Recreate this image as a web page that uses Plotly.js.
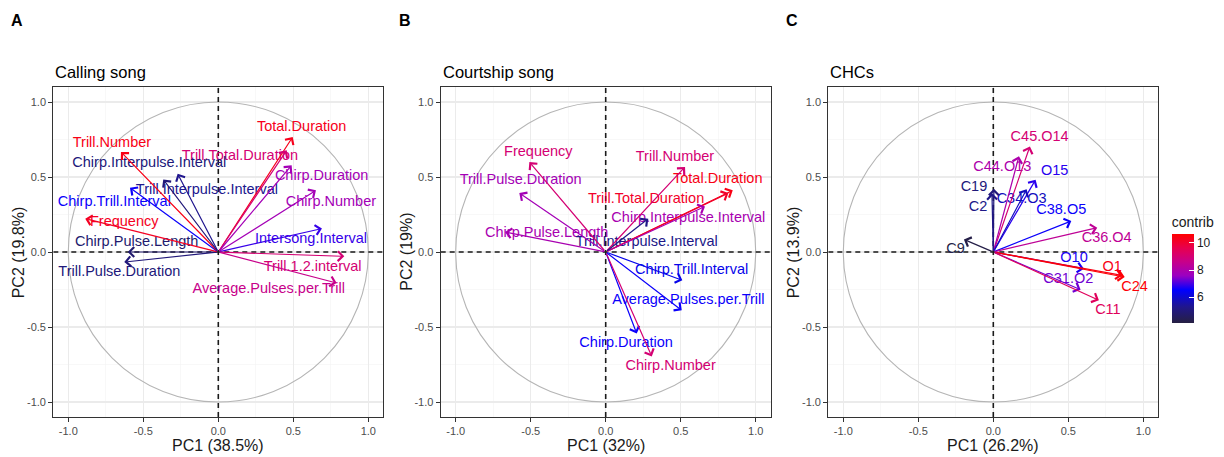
<!DOCTYPE html>
<html><head><meta charset="utf-8">
<script src="https://cdn.plot.ly/plotly-3.0.1.min.js"></script>
<style>html,body{margin:0;padding:0;background:#fff}</style>
</head><body><div id="chart" style="width:1224px;height:457px"></div>
<script>
// ---------- DATA ----------
// Panel A: Calling song
const varsA = ['Total.Duration','Trill.Total.Duration','Chirp.Duration','Chirp.Number','Intersong.Interval','Trill.1.2.interval','Average.Pulses.per.Trill','Trill.Pulse.Duration','Chirp.Pulse.Length','Frequency','Chirp.Trill.Interval','Trill.Number','Chirp.Interpulse.Interval','Trill.Interpulse.Interval'];
const pc1A = [0.496, 0.456, 0.489, 0.651, 0.691, 0.840, 0.789, -0.627, -0.604, -0.887, -0.589, -0.649, -0.367, -0.271];
const pc2A = [0.767, 0.678, 0.578, 0.411, 0.156, -0.029, -0.207, -0.067, 0.000, 0.222, 0.429, 0.667, 0.484, 0.522];
const contribA = [10.3, 9.0, 7.8, 7.8, 6.9, 9.0, 8.6, 5.0, 4.8, 10.2, 6.6, 10.4, 5.0, 5.3];

// Panel B: Courtship song
const varsB = ['Frequency','Trill.Pulse.Duration','Chirp.Pulse.Length','Trill.Number','Total.Duration','Trill.Total.Duration','Chirp.Interpulse.Interval','Trill.Interpulse.Interval','Chirp.Trill.Interval','Average.Pulses.per.Trill','Chirp.Duration','Chirp.Number'];
const pc1B = [-0.509, -0.576, -0.671, 0.529, 0.847, 0.818, 0.662, 0.284, 0.511, 0.507, 0.207, 0.307];
const pc2B = [0.600, 0.393, 0.133, 0.567, 0.411, 0.393, 0.304, 0.222, -0.189, -0.389, -0.544, -0.696];
const contribB = [9.0, 7.8, 7.9, 9.0, 10.4, 10.1, 7.9, 5.2, 6.3, 6.6, 6.6, 9.0];

// Panel C: CHCs
const varsC = ['C45.O14','C44.O13','O15','C34.O3','C19','C2','C38.O5','C36.O4','C9','O10','O1','C24','C31.O2','C11'];
const pc1C = [0.244, 0.171, 0.282, 0.222, 0.004, -0.009, 0.520, 0.693, -0.196, 0.604, 0.860, 0.876, 0.582, 0.704];
const pc2C = [0.704, 0.638, 0.482, 0.418, 0.422, 0.393, 0.207, 0.162, 0.084, -0.111, -0.156, -0.167, -0.251, -0.322];
const contribC = [9.0, 8.0, 6.8, 5.8, 5.0, 5.2, 6.6, 8.4, 4.2, 6.7, 10.4, 10.6, 7.3, 9.4];

const axisTickLabels = ['-1.0','-0.5','0.0','0.5','1.0'];
const colorbarTicks = [6, 8, 10];

// ---------- LABEL PLACEMENT (repelled label positions, layout only) ----------
const labelPosA = {x:[0.556,0.144,0.689,0.751,0.618,0.629,0.336,-0.660,-0.544,-0.627,-0.693,-0.709,-0.460,-0.076],
                   y:[0.829,0.638,0.504,0.333,0.082,-0.104,-0.249,-0.133,0.062,0.196,0.333,0.727,0.589,0.411]};
const labelPosB = {x:[-0.449,-0.567,-0.393,0.462,0.747,0.269,0.551,0.273,0.573,0.551,0.136,0.433],
                   y:[0.667,0.478,0.122,0.633,0.482,0.351,0.222,0.067,-0.122,-0.322,-0.611,-0.762]};
const labelPosC = {x:[0.309,0.060,0.409,0.189,-0.129,-0.102,0.453,0.756,-0.251,0.538,0.793,0.942,0.500,0.764],
                   y:[0.762,0.562,0.540,0.349,0.433,0.300,0.278,0.089,0.018,-0.044,-0.100,-0.233,-0.184,-0.389]};

// ---------- STYLE ----------
const W = 1224, H = 457;
const FONT = 'Liberation Sans, Arial, Helvetica, sans-serif';
const CMIN = 4.1, CMAX = 10.66;
const stops = [[0,[38,32,66]],[0.18,[32,22,140]],[0.37,[0,0,255]],[0.53,[154,0,194]],[0.69,[200,0,137]],[0.84,[231,0,79]],[1,[255,0,0]]];
const colorscale = stops.map(s => [s[0], 'rgb(' + s[1].join(',') + ')']);
function colorFor(v){
  let t = (v - CMIN) / (CMAX - CMIN); t = Math.max(0, Math.min(1, t));
  for (let i = 1; i < stops.length; i++){
    if (t <= stops[i][0]){
      const a = stops[i-1], b = stops[i];
      const f = (t - a[0]) / (b[0] - a[0]);
      const c = a[1].map((x, k) => Math.round(x + (b[1][k] - x) * f));
      return 'rgb(' + c.join(',') + ')';
    }
  }
  return 'rgb(255,0,0)';
}
const px = x => x / W;
const py = y => 1 - y / H;
const panelTop = 87, panelBottom = 417;

const panels = [
  {s:'',  vars:varsA, pc1:pc1A, pc2:pc2A, contrib:contribA, lab:labelPosA, left:53.3,  title:'Calling song',   letter:'A', xt:'PC1 (38.5%)', yt:'PC2 (19.8%)'},
  {s:'2', vars:varsB, pc1:pc1B, pc2:pc2B, contrib:contribB, lab:labelPosB, left:440.7, title:'Courtship song', letter:'B', xt:'PC1 (32%)',   yt:'PC2 (19%)'},
  {s:'3', vars:varsC, pc1:pc1C, pc2:pc2C, contrib:contribC, lab:labelPosC, left:828.3, title:'CHCs',           letter:'C', xt:'PC1 (26.2%)', yt:'PC2 (13.9%)'}
];

function axis(dom, anchor){
  return {
    domain: dom, anchor: anchor, range: [-1.1, 1.1], fixedrange: true,
    tickmode: 'array', tickvals: [-1, -0.5, 0, 0.5, 1], ticktext: axisTickLabels,
    showgrid: true, gridcolor: '#ebebeb', gridwidth: 1.1,
    minor: {tickmode: 'array', tickvals: [-0.75, -0.25, 0.25, 0.75], showgrid: true, gridcolor: '#f3f3f3', gridwidth: 0.6, ticks: ''},
    zeroline: false, showline: true, mirror: true, linecolor: '#333333', linewidth: 1.1,
    ticks: 'outside', ticklen: 4, tickcolor: '#333333', tickwidth: 1,
    tickfont: {family: FONT, size: 11, color: '#4d4d4d'}
  };
}

const layout = {
  width: W, height: H, margin: {l: 0, r: 0, t: 0, b: 0},
  paper_bgcolor: '#ffffff', plot_bgcolor: '#ffffff',
  showlegend: false, font: {family: FONT},
  shapes: [], annotations: []
};
const traces = [];

panels.forEach(p => {
  const xdom = [px(p.left), px(p.left + 330)];
  const ydom = [py(panelBottom), py(panelTop)];
  const xa = 'x' + p.s, ya = 'y' + p.s;
  layout['xaxis' + p.s] = axis(xdom, ya);
  layout['yaxis' + p.s] = axis(ydom, xa);
  // unit circle and dashed reference lines (between grid and data)
  layout.shapes.push({type: 'circle', xref: xa, yref: ya, x0: -1, x1: 1, y0: -1, y1: 1, line: {color: '#b5b5b5', width: 1.1}, layer: 'between'});
  layout.shapes.push({type: 'line', xref: xa, yref: ya, x0: 0, x1: 0, y0: -1.1, y1: 1.1, line: {color: '#1a1a1a', width: 1.6, dash: '5px,4px'}, layer: 'between'});
  layout.shapes.push({type: 'line', xref: xa, yref: ya, x0: -1.1, x1: 1.1, y0: 0, y1: 0, line: {color: '#1a1a1a', width: 1.6, dash: '5px,4px'}, layer: 'between'});
  const cols = p.contrib.map(colorFor);
  // arrows
  p.vars.forEach((v, i) => {
    layout.annotations.push({xref: xa, yref: ya, axref: xa, ayref: ya, x: p.pc1[i], y: p.pc2[i], ax: 0, ay: 0,
      text: '', showarrow: true, arrowhead: 4, arrowsize: 1.6, arrowwidth: 1.2, arrowcolor: cols[i], standoff: 0});
  });
  // labels
  traces.push({type: 'scatter', mode: 'text', xaxis: xa, yaxis: ya, x: p.lab.x, y: p.lab.y, text: p.vars,
    textposition: 'middle center', textfont: {family: FONT, size: 14.5, color: cols}, hoverinfo: 'skip', cliponaxis: false});
  // titles
  layout.annotations.push({xref: 'paper', yref: 'paper', x: px(p.left), y: py(72), xanchor: 'left', yanchor: 'middle',
    text: p.title, showarrow: false, font: {family: FONT, size: 16.5, color: '#000'}});
  layout.annotations.push({xref: 'paper', yref: 'paper', x: px(p.left - 44), y: py(20.5), xanchor: 'left', yanchor: 'middle',
    text: '<b>' + p.letter + '</b>', showarrow: false, font: {family: FONT, size: 16, color: '#000'}});
  layout.annotations.push({xref: 'paper', yref: 'paper', x: px(p.left + 165), y: py(445), xanchor: 'center', yanchor: 'middle',
    text: p.xt, showarrow: false, font: {family: FONT, size: 16, color: '#1a1a1a'}});
  layout.annotations.push({xref: 'paper', yref: 'paper', x: px(p.left - 35), y: py(252), xanchor: 'center', yanchor: 'middle',
    text: p.yt, textangle: -90, showarrow: false, font: {family: FONT, size: 16, color: '#1a1a1a'}});
});

// colour bar (contrib legend)
traces.push({type: 'scatter', mode: 'markers', xaxis: 'x3', yaxis: 'y3', x: [0, 0], y: [0, 0], hoverinfo: 'skip',
  marker: {size: 1, opacity: 0, color: [CMIN, CMAX], cmin: CMIN, cmax: CMAX, colorscale: colorscale, showscale: true,
    colorbar: {x: px(1171.7), xanchor: 'left', xpad: 0, y: py(268), yanchor: 'middle', ypad: 0,
      len: 110, lenmode: 'pixels', thickness: 22, outlinewidth: 0,
      tickmode: 'array', tickvals: colorbarTicks, ticks: 'inside', ticklen: 5, tickcolor: '#ffffff', tickwidth: 1,
      tickfont: {family: FONT, size: 12, color: '#1a1a1a'},
      title: {text: 'contrib', side: 'top', font: {family: FONT, size: 14, color: '#1a1a1a'}}}}});

Plotly.newPlot('chart', traces, layout, {staticPlot: true, displayModeBar: false});
</script>
</body></html>
